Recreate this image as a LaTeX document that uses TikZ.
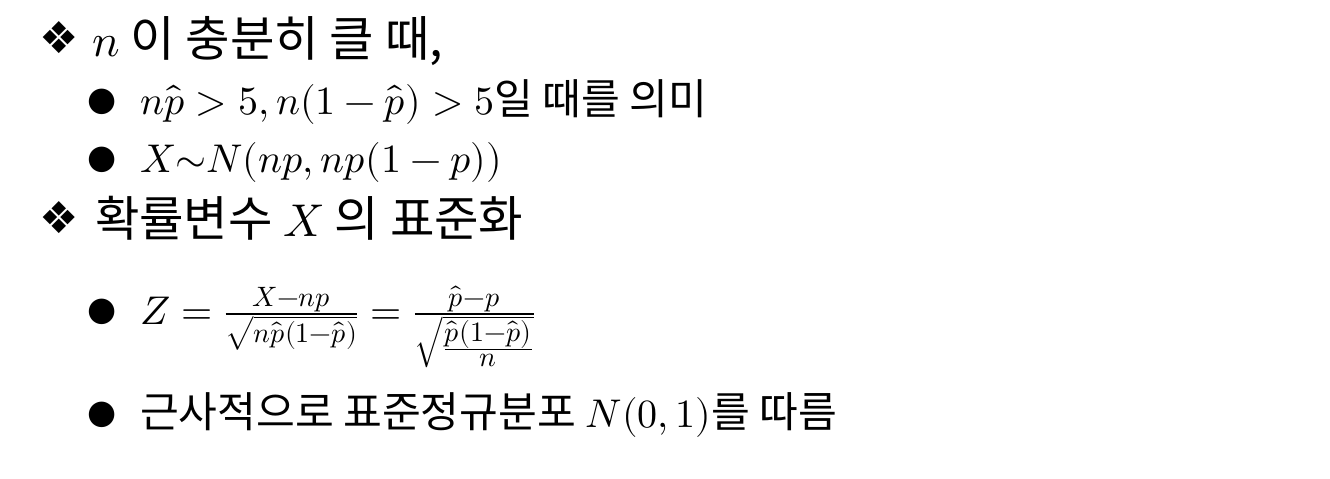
\documentclass[tikz,border=0pt]{standalone}
\usepackage{amsmath}
\usepackage{fontspec}
\usepackage{unicode-math}
\setmainfont{Noto Sans CJK KR}
\setmathfont{Latin Modern Math}[Scale=0.95]
\newfontfamily\symfont{DejaVu Sans}
\usetikzlibrary{positioning}
\tikzstyle{every node}=[inner sep=0pt,outer sep=0pt]
\tikzstyle{lvlone}=[anchor=base west,font=\fontsize{27.5}{32}\selectfont]
\tikzstyle{lvltwo}=[anchor=base west,font=\fontsize{24}{28}\selectfont]
\tikzstyle{diam}=[anchor=base west,font=\symfont\fontsize{25}{30}\selectfont]
\tikzstyle{bul}=[anchor=base west,font=\symfont\fontsize{19}{22}\selectfont]

\begin{document}
\begin{tikzpicture}[x=0.02cm,y=-0.02cm]
    \useasboundingbox[fill=white] (0,0) rectangle (1330,478);
    % first heading
    \node[diam] (d1) at (39,53) {❖};
    \node[lvlone] (large) at (92,56) {$n$ 이 충분히 클 때,};
    \node[bul] (b1) at (87,110) {●};
    \node[lvltwo] (cond) at (140,114) {$n\hat{p}>5,n(1-\hat{p})>5$일 때를 의미};
    \node[bul] (b2) at (87,168) {●};
    \node[lvltwo] (binom) at (140,172) {$X{\sim}N(np,np(1-p))$};

    % second heading
    \node[diam] (d2) at (39,233) {❖};
    \node[lvlone] (std) at (95,236) {확률변수 $X$ 의 표준화};
    \node[bul] (b3) at (87,320) {●};
    \node[lvltwo] (zform) at (140,324)
        {$Z=\frac{X-np}{\sqrt{n\hat{p}(1-\hat{p})}}=\frac{\hat{p}-p}{\sqrt{\frac{\scriptstyle\hat{p}(1-\hat{p})}{\scriptstyle n}}}$};
    \node[bul] (b4) at (87,423) {●};
    \node[lvltwo] (approx) at (140,427) {근사적으로 표준정규분포 $N(0,1)$를 따름};
\end{tikzpicture}
\end{document}
